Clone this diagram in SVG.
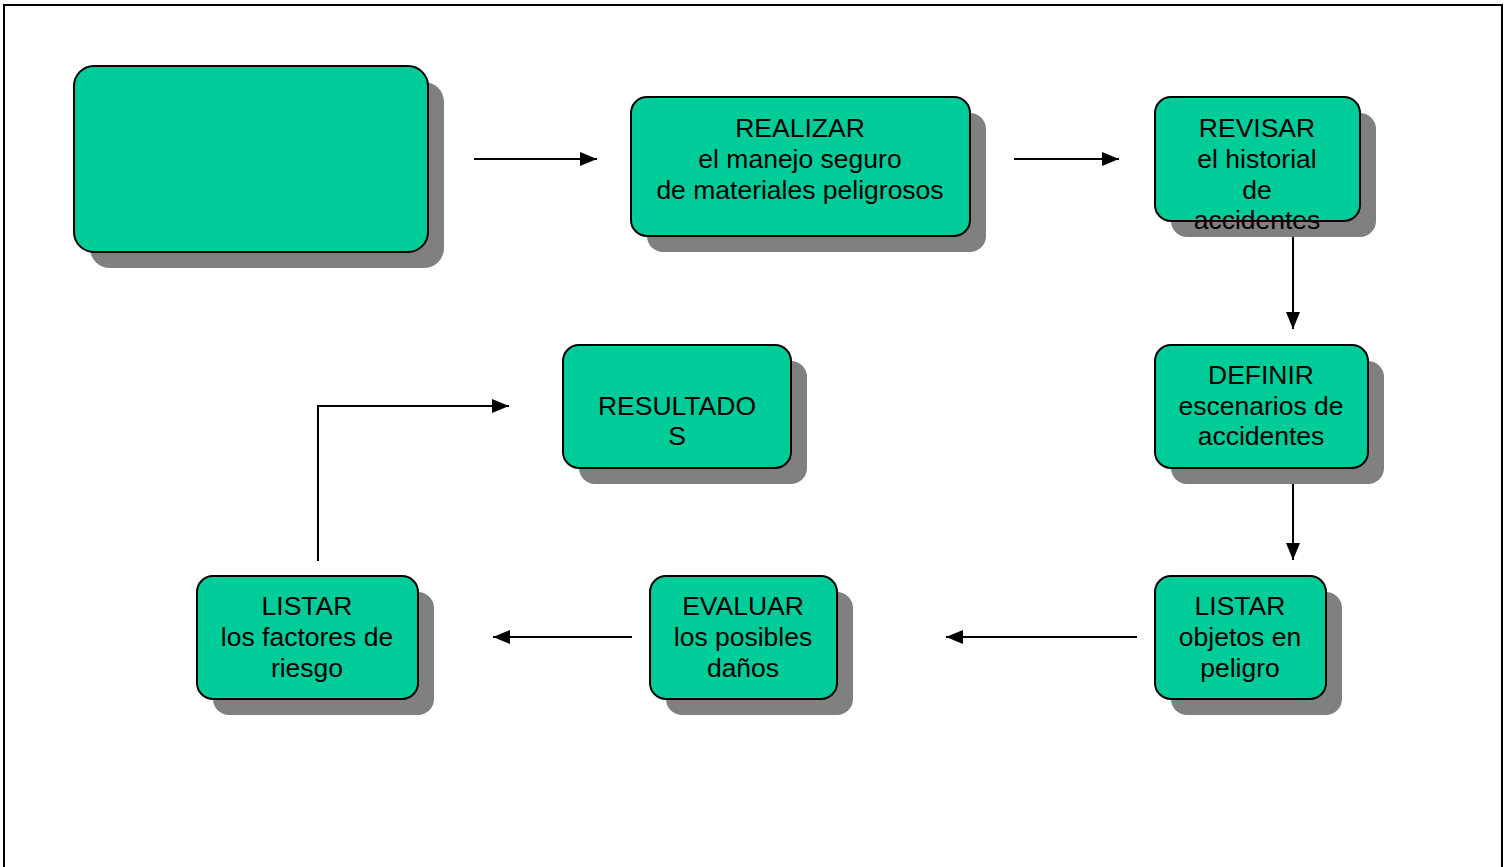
<svg xmlns="http://www.w3.org/2000/svg" width="1512" height="867" viewBox="0 0 1512 867">
  <style>
    .shadow { fill: #808080; }
    .box { fill: #00CC99; stroke: #000; stroke-width: 2; }
    .lbl { font-family: "Liberation Sans", Arial, sans-serif; font-size: 26.5px; fill: #000; text-anchor: middle; }
    .conn { fill: none; stroke: #000; stroke-width: 2; }
  </style>
  <defs>
    <marker id="arrow" viewBox="0 0 17 14" refX="17" refY="7" markerWidth="17" markerHeight="14" markerUnits="userSpaceOnUse" orient="auto">
      <path d="M0,0 L17,7 L0,14 Z" fill="#000"/>
    </marker>
  </defs>

  <rect x="0" y="0" width="1512" height="867" fill="#fff"/>
  <!-- page frame -->
  <path d="M4,870 L4,5 L1502,5 L1502,870" fill="none" stroke="#000" stroke-width="2"/>

  <g id="node-start">
    <rect class="shadow" x="90" y="82" width="354" height="186" rx="20"/>
    <rect class="box" x="74" y="66" width="354" height="186" rx="20"/>
  </g>

  <g id="node-realizar">
    <rect class="shadow" x="647" y="113" width="339" height="139" rx="16"/>
    <rect class="box" x="631" y="97" width="339" height="139" rx="16"/>
    <text class="lbl"><tspan x="800" y="137">REALIZAR</tspan><tspan x="800" y="168">el manejo seguro</tspan><tspan x="800" y="199">de materiales peligrosos</tspan></text>
  </g>

  <g id="node-revisar">
    <rect class="shadow" x="1171" y="113" width="205" height="124" rx="16"/>
    <rect class="box" x="1155" y="97" width="205" height="124" rx="16"/>
    <text class="lbl"><tspan x="1257" y="137">REVISAR</tspan><tspan x="1257" y="168">el historial</tspan><tspan x="1257" y="199">de</tspan><tspan x="1257" y="229">accidentes</tspan></text>
  </g>

  <g id="node-definir">
    <rect class="shadow" x="1171" y="361" width="213" height="123" rx="16"/>
    <rect class="box" x="1155" y="345" width="213" height="123" rx="16"/>
    <text class="lbl"><tspan x="1261" y="384">DEFINIR</tspan><tspan x="1261" y="415">escenarios de</tspan><tspan x="1261" y="445">accidentes</tspan></text>
  </g>

  <g id="node-listar-objetos">
    <rect class="shadow" x="1171" y="592" width="171" height="123" rx="16"/>
    <rect class="box" x="1155" y="576" width="171" height="123" rx="16"/>
    <text class="lbl"><tspan x="1240" y="615">LISTAR</tspan><tspan x="1240" y="646">objetos en</tspan><tspan x="1240" y="677">peligro</tspan></text>
  </g>

  <g id="node-evaluar">
    <rect class="shadow" x="666" y="592" width="187" height="123" rx="16"/>
    <rect class="box" x="650" y="576" width="187" height="123" rx="16"/>
    <text class="lbl"><tspan x="743" y="615">EVALUAR</tspan><tspan x="743" y="646">los posibles</tspan><tspan x="743" y="677">daños</tspan></text>
  </g>

  <g id="node-listar-factores">
    <rect class="shadow" x="213" y="592" width="221" height="123" rx="16"/>
    <rect class="box" x="197" y="576" width="221" height="123" rx="16"/>
    <text class="lbl"><tspan x="307" y="615">LISTAR</tspan><tspan x="307" y="646">los factores de</tspan><tspan x="307" y="677">riesgo</tspan></text>
  </g>

  <g id="node-resultados">
    <rect class="shadow" x="579" y="361" width="228" height="123" rx="16"/>
    <rect class="box" x="563" y="345" width="228" height="123" rx="16"/>
    <text class="lbl"><tspan x="677" y="415">RESULTADO</tspan><tspan x="677" y="445">S</tspan></text>
  </g>

  <g id="connectors">
    <line class="conn" x1="474" y1="159" x2="597" y2="159" marker-end="url(#arrow)"/>
    <line class="conn" x1="1014" y1="159" x2="1119" y2="159" marker-end="url(#arrow)"/>
    <line class="conn" x1="1293" y1="237" x2="1293" y2="329" marker-end="url(#arrow)"/>
    <line class="conn" x1="1293" y1="484" x2="1293" y2="560" marker-end="url(#arrow)"/>
    <line class="conn" x1="1137" y1="637" x2="946" y2="637" marker-end="url(#arrow)"/>
    <line class="conn" x1="632" y1="637" x2="493" y2="637" marker-end="url(#arrow)"/>
    <polyline class="conn" points="318,561 318,406 509,406" marker-end="url(#arrow)"/>
  </g>
</svg>
